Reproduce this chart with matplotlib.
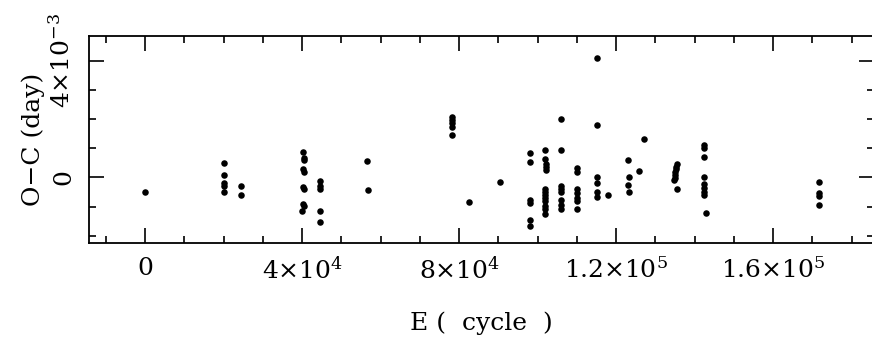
import matplotlib
matplotlib.use('Agg')
import matplotlib.pyplot as plt
from matplotlib.ticker import MultipleLocator

plt.rcParams['font.family'] = ['DejaVu Serif']
plt.rcParams['mathtext.fontset'] = 'dejavuserif'

# Epoch (cycles) and O-C residuals (units of 1e-3 day)
epoch = [
    0,
    20000, 20000, 20000, 20000, 20000,
    24500, 24500,
    40300, 40400, 40500, 40300, 40500, 40200, 40500, 40300, 40500, 40000,
    44600, 44600, 44600, 44600, 44600,
    56500, 56700,
    78200, 78200, 78200, 78200, 78200,
    82600,
    90400,
    98100, 98100, 98100, 98100, 98100, 98100,
    102000, 102000, 102200, 102200, 102200, 102000, 102000, 102000, 102000,
    102000, 102000, 102000, 102000,
    105900, 105900, 105900, 105900, 105900, 105900, 105900, 105900,
    110000, 110000, 110000, 110000, 110000, 110000, 110000,
    115200, 115200, 115200, 115200, 115200, 115200,
    118000,
    122900, 123300, 122900, 123300,
    125700,
    127200,
    135400, 135300, 135200, 135100, 135000, 134900, 134800, 135400,
    142300, 142300, 142300, 142400, 142500, 142500, 142500, 142500, 143000,
    171800, 171800, 171800, 171800,
]
oc = [
    -0.51,
    0.49, 0.09, -0.18, -0.30, -0.51,
    -0.31, -0.60,
    0.87, 0.68, 0.60, 0.28, 0.18, -0.32, -0.41, -0.90, -0.99, -1.14,
    -0.13, -0.30, -0.41, -1.14, -1.53,
    0.56, -0.44,
    2.06, 1.98, 1.86, 1.73, 1.46,
    -0.85,
    -0.16,
    0.83, 0.53, -0.79, -0.87, -1.47, -1.66,
    0.93, 0.64, 0.45, 0.37, 0.24, -0.39, -0.49, -0.59, -0.70,
    -0.82, -0.97, -1.10, -1.24,
    2.02, 0.93, -0.28, -0.39, -0.51, -0.78, -0.95, -1.08,
    0.33, 0.18, -0.39, -0.53, -0.70, -0.82, -1.08,
    4.10, 1.80, 0.02, -0.18, -0.51, -0.68,
    -0.59,
    0.61, 0.01, -0.26, -0.51,
    0.22,
    1.31,
    0.45, 0.37, 0.28, 0.18, 0.09, -0.01, -0.09, -0.39,
    1.11, 1.02, 0.70, 0.02, -0.21, -0.36, -0.49, -0.61, -1.22,
    -0.15, -0.53, -0.64, -0.94,
]
oc_day = [v * 1e-3 for v in oc]

xtick_pos = [0, 40000, 80000, 120000, 160000]
xtick_lab = ['0', r'$4{\times}10^{4}$', r'$8{\times}10^{4}$',
             r'$1.2{\times}10^{5}$', r'$1.6{\times}10^{5}$']
ytick_pos = [0, 0.004]
ytick_lab = ['0', r'$4{\times}10^{-3}$']

fig = plt.figure(figsize=(8.72, 3.42), dpi=100)
# right spine sits just past the image edge, as in the scan
ax = fig.add_axes([89 / 872, 1 - 243 / 342, 785 / 872, 207 / 342])

ax.plot(epoch, oc_day, 'o', color='black', markersize=4.7, markeredgewidth=0)

ax.set_xlim(-14300, 185700)
ax.set_ylim(-0.00225, 0.00485)

ax.set_xticks(xtick_pos)
ax.set_xticklabels(xtick_lab, fontsize=18)
ax.xaxis.set_minor_locator(MultipleLocator(10000))
ax.set_yticks(ytick_pos)
ax.set_yticklabels(ytick_lab, fontsize=18, rotation=90, va='center')
ax.yaxis.set_minor_locator(MultipleLocator(0.001))

ax.tick_params(which='both', direction='in', top=True, right=True, width=1.2)
ax.tick_params(axis='x', which='major', length=11, pad=10)
ax.tick_params(axis='y', which='major', length=11, pad=10)
ax.tick_params(which='minor', length=5)
for s in ax.spines.values():
    s.set_linewidth(1.3)

ax.set_xlabel('E (  cycle  )', fontsize=18, labelpad=20)
ax.set_ylabel('O\u2212C (day)', fontsize=18, labelpad=3)

fig.savefig('out.png', dpi=100)
